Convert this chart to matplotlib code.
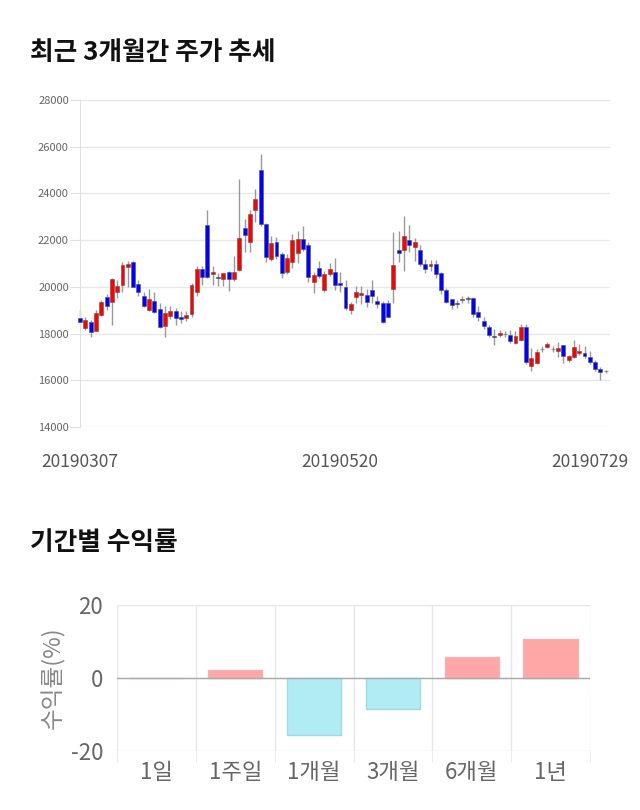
import matplotlib.pyplot as plt
import numpy as np

plt.rcParams['font.family'] = ['Noto Sans CJK KR', 'DejaVu Sans']
plt.rcParams['axes.unicode_minus'] = False

# daily candles, 2019-03-07 ~ 2019-07-29
opens = [18650, 18250, 18500, 18130, 18800, 19580, 19350, 19780, 20080, 20840,
         21050, 20120, 19600, 18990, 19400, 19050, 18330, 18770, 18980, 18700,
         18680, 18830, 19780, 20750, 22650, 20530, 20410, 20330, 20620, 20330,
         20720, 22500, 21910, 23290, 25000, 22700, 21180, 21940, 21400, 20620,
         21050, 21460, 22040, 21790, 20190, 20790, 19870, 20530, 20640, 20150,
         19980, 19010, 19580, 19670, 19640, 19870, 19380, 19300, 19300, 19920,
         21580, 21580, 22000, 21700, 21580, 20980, 20880, 20980, 20580, 19870,
         19470, 19300, 19430, 19510, 19510, 18940, 18540, 18300, 17900, 17960,
         18000, 17940, 17610, 17730, 18300, 16630, 16730, 17330, 17420, 17330,
         17270, 17490, 16870, 16990, 17160, 17160, 16990, 16800, 16490, 16400]
highs = [19000, 18700, 18600, 19000, 19440, 19700, 20400, 20300, 21060, 21100,
         21100, 20300, 19800, 19900, 19800, 19300, 19180, 19180, 19100, 18950,
         18950, 20150, 20900, 20900, 23290, 20880, 20600, 20600, 20700, 21340,
         24600, 22900, 23290, 24180, 25700, 22750, 22180, 22150, 21500, 21400,
         22250, 22400, 22600, 21900, 20650, 21100, 20700, 21000, 21230, 20620,
         20300, 19350, 20050, 20050, 19900, 20300, 19600, 19400, 19450, 22330,
         22390, 23030, 22650, 22100, 21800, 21200, 21150, 21150, 20650, 19950,
         19500, 19420, 19600, 19600, 19550, 19200, 18700, 18350, 18200, 18150,
         18100, 18150, 18100, 18400, 18400, 17370, 17330, 17450, 17650, 17450,
         17650, 17500, 17100, 17730, 17550, 17450, 17250, 16850, 16550, 16450]
lows = [18400, 18150, 17870, 18100, 18750, 19000, 18370, 19520, 19800, 20000,
        19980, 19600, 19150, 18950, 18900, 18250, 17870, 18630, 18360, 18450,
        18550, 18700, 19600, 20080, 20400, 20080, 20050, 20050, 19840, 20250,
        20700, 21500, 21500, 22790, 22600, 21080, 21100, 21200, 20400, 20550,
        20800, 21000, 21550, 20190, 19730, 20400, 19800, 20450, 19870, 19800,
        19000, 18840, 19290, 19250, 19150, 19300, 19100, 18450, 18700, 19300,
        21080, 20700, 21500, 21120, 20900, 20600, 20700, 20400, 19700, 19300,
        19050, 19100, 19300, 19300, 18700, 18550, 18200, 17850, 17500, 17850,
        17850, 17600, 17550, 17700, 16700, 16400, 16700, 17200, 17400, 17200,
        17000, 16730, 16800, 16950, 17100, 16950, 16700, 16400, 16000, 16300]
closes = [18500, 18580, 18080, 18880, 19350, 19180, 20340, 20030, 20930, 20980,
          19980, 19780, 19190, 19500, 18940, 18280, 18880, 18980, 18680, 18630,
          18790, 20100, 20750, 20440, 20440, 20620, 20370, 20580, 20330, 20620,
          22100, 22200, 23110, 23750, 22680, 21270, 21880, 21340, 20580, 21220,
          22000, 22040, 21640, 20440, 20510, 20480, 20550, 20750, 20080, 20100,
          19080, 19250, 19800, 19720, 19370, 19610, 19270, 18510, 18730, 20930,
          21470, 22190, 21780, 21940, 20980, 20770, 20980, 20540, 19870, 19370,
          19230, 19280, 19490, 19470, 18830, 18700, 18330, 17940, 17860, 18010,
          17970, 17690, 17910, 18300, 16770, 16940, 17230, 17340, 17540, 17320,
          17370, 17060, 17040, 17420, 17250, 17020, 16770, 16480, 16370, 16380]
date_ticks = ['20190307', '20190520', '20190729']

periods = ['1일', '1주일', '1개월', '3개월', '6개월', '1년']
returns = [0, 2.3, -15.6, -8.5, 5.8, 10.7]

fig = plt.figure(figsize=(6.4, 8.1), dpi=100)

# ---- 주가 추세 ----
fig.text(30 / 640, 1 - 52 / 810, '최근 3개월간 주가 추세', fontsize=18.5,
         fontweight='bold', color='#111111', va='center')
ax = fig.add_axes([80 / 640, 1 - 427 / 810, 530 / 640, 327 / 810])

x = np.arange(len(opens))
o = np.array(opens)
c = np.array(closes)
up = c >= o
cols = np.where(up, '#ff0000', '#0000ff')
ax.vlines(x, lows, highs, color='#999999', lw=1, zorder=2, clip_on=False)
ax.bar(x, np.maximum(np.abs(c - o), 25), bottom=np.minimum(o, c), width=0.74,
       color=cols, edgecolor='#555555', linewidth=0.4, zorder=3, clip_on=False)

ax.set_xlim(0, 99.8)
ax.set_ylim(14000, 28000)
ax.set_yticks(range(14000, 28001, 2000))
ax.grid(axis='y', color='#e8e8e8', lw=1)
ax.set_axisbelow(True)
for s in ['top', 'right', 'bottom']:
    ax.spines[s].set_visible(False)
ax.spines['left'].set_color('#e0e0e0')
ax.tick_params(axis='y', length=7, color='#e0e0e0', labelsize=8,
               labelcolor='#666666', pad=1)
ax.set_xticks([0, 49, 96])
ax.set_xticklabels(date_ticks)
ax.tick_params(axis='x', length=0, labelsize=12.5, labelcolor='#555555', pad=19)

# ---- 기간별 수익률 ----
fig.text(30 / 640, 1 - 543 / 810, '기간별 수익률', fontsize=18.5,
         fontweight='bold', color='#111111', va='center')
ax2 = fig.add_axes([117 / 640, 1 - 751 / 810, 473 / 640, 146 / 810])
pos = np.arange(len(periods))
bar_cols = ['#ffa6a6' if r >= 0 else '#b1ebf3' for r in returns]
edge_cols = ['#efb4b4' if r >= 0 else '#9fd9e2' for r in returns]
ax2.bar(pos, returns, width=0.69, color=bar_cols, edgecolor=edge_cols,
        linewidth=1, zorder=3)
ax2.axhline(0, color='#aaaaaa', lw=1, zorder=4)
ax2.set_xlim(-0.5, len(periods) - 0.5)
ax2.set_ylim(-20, 20)
ax2.set_yticks([-20, 0, 20])
ax2.set_xticks(pos)
ax2.set_xticklabels(periods)
ax2.set_xticks(np.arange(-0.5, len(periods)), minor=True)
ax2.grid(axis='x', which='minor', color='#e6e6e6', lw=1)
ax2.grid(axis='y', which='major', color='#e6e6e6', lw=1)
ax2.set_axisbelow(True)
for s in ax2.spines.values():
    s.set_visible(False)
ax2.tick_params(axis='x', which='major', length=0, labelsize=16,
                labelcolor='#666666', pad=7)
ax2.tick_params(axis='x', which='minor', length=8, color='#e6e6e6')
ax2.tick_params(axis='y', length=0, labelsize=16, labelcolor='#666666', pad=10)
ax2.set_ylabel('수익률(%)', fontsize=17, color='#888888', labelpad=4)

fig.savefig('out.png', dpi=100)
